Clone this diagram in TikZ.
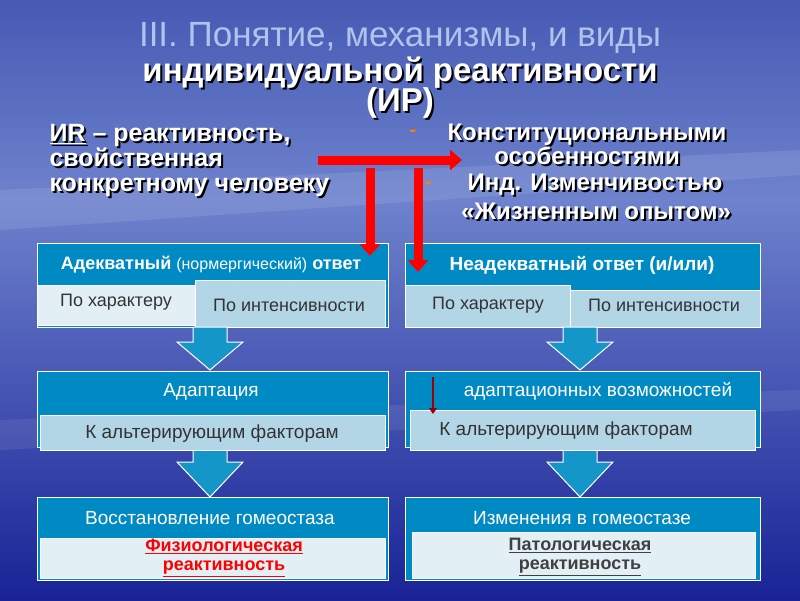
\documentclass[tikz,border=0pt]{standalone}
\usepackage{fontspec}
\setmainfont{Liberation Sans}
\usetikzlibrary{arrows.meta}
\definecolor{hdr}{RGB}{0,138,196}
\definecolor{lite}{RGB}{226,240,246}
\definecolor{mid}{RGB}{178,214,230}
\definecolor{bgtop}{RGB}{70,90,180}
\definecolor{bgmid}{RGB}{110,130,205}
\definecolor{bgbot}{RGB}{25,35,150}
\definecolor{ttl}{RGB}{175,195,235}
\definecolor{arr}{RGB}{20,150,200}
\begin{document}
\begin{tikzpicture}[x=1pt,y=-1pt,
  hbox/.style={fill=hdr,draw=white,line width=1pt},
  sbox/.style={fill=mid,draw=white,line width=0.6pt},
  lbox/.style={fill=lite,draw=white,line width=0.6pt},
  htxt/.style={text=white,font=\fontsize{19}{21}\selectfont},
  stxt/.style={text=black!80,font=\fontsize{18}{20}\selectfont},
  wtxt/.style={text=white,font=\bfseries\fontsize{24}{24}\selectfont,align=left},
  shd/.style={text=black,font=\bfseries\fontsize{24}{24}\selectfont,align=left},
  ltxt/.style={font=\bfseries\fontsize{25}{25}\selectfont,align=left},
  bigarrow/.style={fill=arr,draw=white,line width=1pt},
  redarrow/.style={draw=red,line width=9pt,-{Triangle[length=12pt,width=20pt]}}]
\useasboundingbox (0,0) rectangle (800,600);
\fill[bgbot] (0,0) rectangle (800,600);
\shade[top color=bgtop,bottom color=bgmid] (0,0) rectangle (800,200);
\shade[top color=bgmid,bottom color=bgbot] (0,200) rectangle (800,600);
\fill[white,opacity=0.10] (0,190) -- (800,150) -- (800,175) -- (0,230) -- cycle;
\fill[white,opacity=0.08] (0,420) -- (800,390) -- (800,410) -- (0,450) -- cycle;
% title
\node[text=ttl,font=\fontsize{35}{36}\selectfont] (t1) at (400,38) {III. Понятие, механизмы, и виды};
\node[text=black,font=\bfseries\fontsize{33}{36}\selectfont] at (402,75) {индивидуальной реактивности};
\node[text=white,font=\bfseries\fontsize{33}{36}\selectfont] (t2) at (400,73) {индивидуальной реактивности};
\node[text=black,font=\bfseries\fontsize{33}{36}\selectfont] at (402,105) {(ИР)};
\node[text=white,font=\bfseries\fontsize{33}{36}\selectfont] (t3) at (400,103) {(ИР)};
% left text
\node[ltxt,text=black,anchor=north west] at (48,123) {\underline{ИR} – реактивность,\\свойственная\\конкретному человеку};
\node[ltxt,text=white,anchor=north west] (lt) at (46,121) {\underline{ИR} – реактивность,\\свойственная\\конкретному человеку};
% right list
\node[shd,align=center] at (589,146) {Конституциональными\\особенностями};
\node[wtxt,align=center] (r1) at (587,144) {Конституциональными\\особенностями};
\node[shd] at (597,187) {Инд. Изменчивостью};
\node[wtxt] (r2) at (595,185) {Инд. Изменчивостью};
\node[shd] at (598,213) {«Жизненным опытом»};
\node[wtxt] (r3) at (596,211) {«Жизненным опытом»};
\node[text=orange,font=\bfseries\fontsize{20}{20}\selectfont] at (413,133) {-};
\node[text=orange,font=\bfseries\fontsize{20}{20}\selectfont] at (428,185) {-};
% top boxes
\draw[hbox] (37,243) rectangle (388,327);
\node[htxt,font=\bfseries\fontsize{18}{20}\selectfont] (a1) at (211,265) {Адекватный {\mdseries\fontsize{16}{18}\selectfont(нормергический)} ответ};
\draw[lbox] (37,285) rectangle (195,325);
\node[stxt] (a1a) at (116,302) {По характеру};
\draw[sbox] (195,280) rectangle (385,327);
\node[stxt] (a1b) at (289,305) {По интенсивности};
\draw[hbox] (405,243) rectangle (760,327);
\node[htxt,font=\bfseries\fontsize{19}{21}\selectfont] (b1) at (582,265) {Неадекватный ответ (и/или)};
\draw[sbox] (405,285) rectangle (570,327);
\node[stxt] (b1a) at (488,305) {По характеру};
\draw[sbox] (570,290) rectangle (760,327);
\node[stxt] (b1b) at (664,305) {По интенсивности};
% big arrows
\foreach \cx/\yt/\yb in {210/327/370,580/327/370,210/447/497,580/447/497}{
  \draw[bigarrow] (\cx-17,\yt) -- (\cx+17,\yt) -- (\cx+17,\yt+15) -- (\cx+33,\yt+15) -- (\cx,\yb) -- (\cx-33,\yt+15) -- (\cx-17,\yt+15) -- cycle;}
% middle boxes
\draw[hbox] (37,371) rectangle (388,447);
\node[htxt] (a2) at (211,392) {Адаптация};
\draw[sbox] (40,415) rectangle (385,450);
\node[stxt,font=\fontsize{19}{21}\selectfont] (a2a) at (212,434) {К альтерирующим факторам};
\draw[hbox] (405,371) rectangle (760,447);
\node[htxt] (b2) at (598,391) {адаптационных возможностей};
\draw[sbox] (410,410) rectangle (755,450);
\node[stxt,font=\fontsize{19}{21}\selectfont] (b2a) at (566,431) {К альтерирующим факторам};
\coordinate (sa) at (433,377);
\coordinate (sb) at (433,414);
\draw[draw=red!60!black,line width=2.5pt,-{Triangle[length=6pt,width=8pt]}] (sa) -- (sb);
% bottom boxes
\draw[hbox] (37,497) rectangle (388,580);
\node[htxt] (a3) at (210,518) {Восстановление гомеостаза};
\draw[lbox] (40,538) rectangle (385,578);
\node[text=red,font=\bfseries\fontsize{18}{19}\selectfont,align=center] (a3a) at (224,558) {\underline{Физиологическая}\\\underline{реактивность}};
\draw[hbox] (405,497) rectangle (760,580);
\node[htxt] (b3) at (582,518) {Изменения в гомеостазе};
\draw[lbox] (412,532) rectangle (755,578);
\node[text=black!75,font=\bfseries\fontsize{18}{19}\selectfont,align=center] (b3a) at (580,557) {\underline{Патологическая}\\\underline{реактивность}};
% red arrows
\coordinate (h1) at (318,160);
\coordinate (h2) at (462,160);
\draw[redarrow] (h1) -- (h2);
\coordinate (v1) at (370,168);
\coordinate (v2) at (370,256);
\coordinate (w1) at (418,168);
\coordinate (w2) at (418,272);
\draw[redarrow] (v1) -- (v2);
\draw[redarrow] (w1) -- (w2);
\end{tikzpicture}
\end{document}
